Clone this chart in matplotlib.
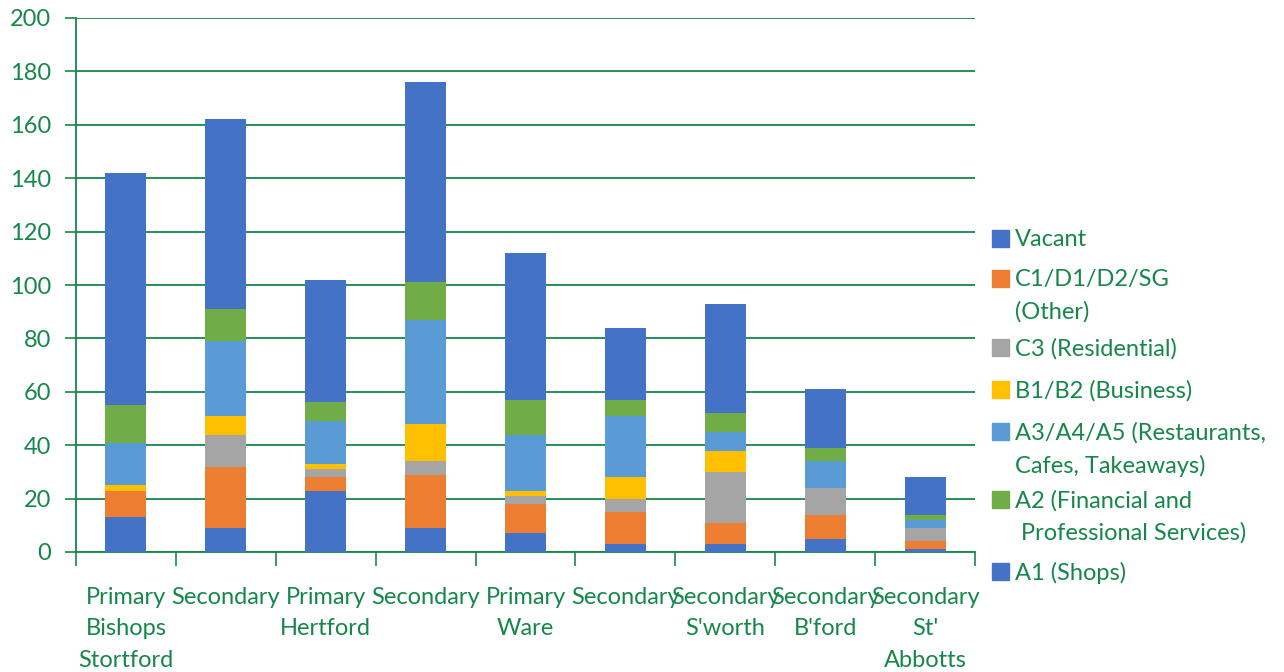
import numpy as np
import matplotlib
matplotlib.use("Agg")
import matplotlib.pyplot as plt
from matplotlib.patches import Rectangle

# Data (bottom to top of each stack)
categories = ["Primary\nBishops\nStortford", "Secondary", "Primary\nHertford", "Secondary",
              "Primary\nWare", "Secondary", "Secondary\nS'worth", "Secondary\nB'ford",
              "Secondary\nSt'\nAbbotts"]
a1_shops    = [13,  9, 23,  9,  7,  3,  3,  5, 1]
c1_other    = [10, 23,  5, 20, 11, 12,  8,  9, 3]
c3_resid    = [ 0, 12,  3,  5,  3,  5, 19, 10, 5]
b1_business = [ 2,  7,  2, 14,  2,  8,  8,  0, 0]
a3_rest     = [16, 28, 16, 39, 21, 23,  7, 10, 3]
a2_fin      = [14, 12,  7, 14, 13,  6,  7,  5, 2]
vacant      = [87, 71, 46, 75, 55, 27, 41, 22, 14]

series = [a1_shops, c1_other, c3_resid, b1_business, a3_rest, a2_fin, vacant]
colours = ['#4472C4', '#ED7D31', '#A5A5A5', '#FFC000', '#5B9BD5', '#70AD47', '#4472C4']

# legend entries, top to bottom, with index into series
legend_items = [("Vacant", 6), ("C1/D1/D2/SG\n(Other)", 1), ("C3 (Residential)", 2),
                ("B1/B2 (Business)", 3), ("A3/A4/A5 (Restaurants,\nCafes, Takeaways)", 4),
                ("A2 (Financial and\n Professional Services)", 5), ("A1 (Shops)", 0)]

green = '#16874A'
fsize = 17
lsp = 1.62
plt.rcParams['font.family'] = ['Lato', 'DejaVu Sans']

fig = plt.figure(figsize=(12.84, 6.72), dpi=100)
ax = fig.add_axes([76/1284, 1-552/672, (975-76)/1284, (552-18)/672])

x = np.arange(len(categories))
bottom = np.zeros(len(categories))
for vals, col in zip(series, colours):
    ax.bar(x, vals, width=0.41, bottom=bottom, color=col, zorder=3)
    bottom += np.array(vals)

ax.set_xlim(-0.5, len(categories) - 0.5)
ax.set_ylim(0, 200)
ax.set_yticks(np.arange(0, 201, 20))
ax.tick_params(axis='y', colors=green, labelsize=fsize, length=8, width=1.2, pad=10)
ax.yaxis.grid(True, color=green, linewidth=1.3, zorder=0)

# x ticks at category boundaries, labels at centres
ax.set_xticks(np.arange(-0.5, len(categories), 1))
ax.set_xticklabels([])
ax.tick_params(axis='x', colors=green, length=10, width=1.2)
ax.set_xticks(x, minor=True)
ax.set_xticklabels(categories, minor=True, color=green, fontsize=fsize, linespacing=lsp)
ax.tick_params(axis='x', which='minor', length=0, pad=25)

for side in ['top', 'right']:
    ax.spines[side].set_visible(False)
ax.spines['left'].set_color(green)
ax.spines['left'].set_linewidth(1.3)
ax.spines['bottom'].set_color(green)
ax.spines['bottom'].set_linewidth(1.3)

# legend drawn manually to keep square on first line
ypos = [239, 279, 348, 390, 432, 500, 572]
for (label, idx), yp in zip(legend_items, ypos):
    fig.patches.append(Rectangle((992/1284, 1-(yp+8)/672), 17/1284, 17/672,
                                 transform=fig.transFigure, color=colours[idx]))
    fig.text(1015/1284, 1-(yp-10)/672, label, color=green, fontsize=fsize, va='top',
             linespacing=lsp, transform=fig.transFigure)

fig.savefig("out.png", dpi=100)
